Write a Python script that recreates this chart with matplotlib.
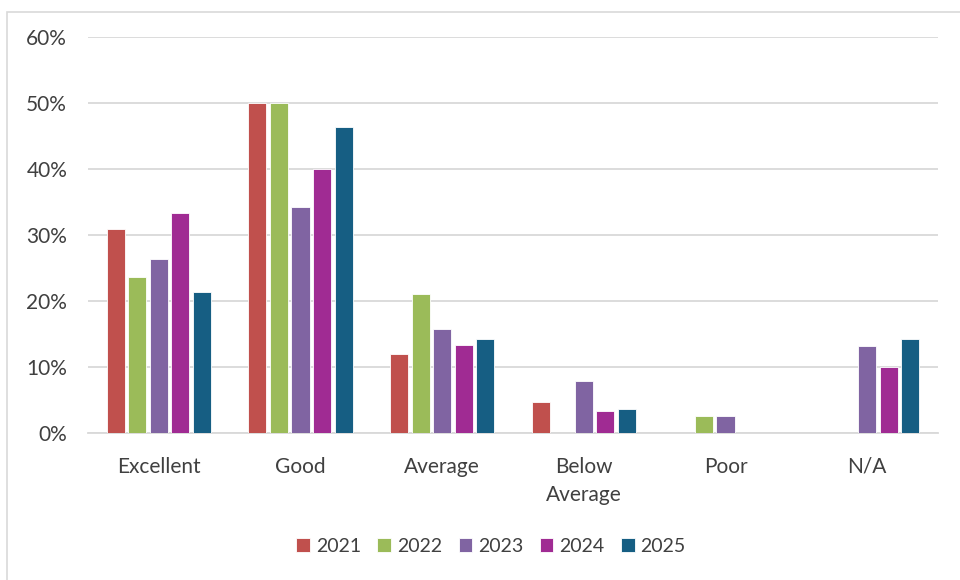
import numpy as np
import matplotlib
matplotlib.use("Agg")
import matplotlib.pyplot as plt
from matplotlib.patches import Rectangle

# Données (en fraction)
categories = ["Excellent", "Good", "Average", "Below\nAverage", "Poor", "N/A"]
annees = ["2021", "2022", "2023", "2024", "2025"]
v2021 = [0.309, 0.500, 0.119, 0.047, 0.0, 0.0]
v2022 = [0.237, 0.500, 0.210, 0.0, 0.026, 0.0]
v2023 = [0.263, 0.342, 0.158, 0.079, 0.026, 0.132]
v2024 = [0.333, 0.400, 0.133, 0.033, 0.0, 0.100]
v2025 = [0.214, 0.464, 0.143, 0.036, 0.0, 0.143]
couleurs = ["#C0504D", "#9BBB59", "#8064A2", "#A02B93", "#165E83"]

series = [v2021, v2022, v2023, v2024, v2025]

plt.rcParams["font.family"] = ["Lato", "DejaVu Sans"]
texte = "#404040"

fig = plt.figure(figsize=(9.6, 5.8), dpi=100)
ax = fig.add_axes([88 / 960, 1 - 433 / 580, 850 / 960, 396 / 580])

x = np.arange(len(categories))
pas = 0.152
for i, (annee, vals) in enumerate(zip(annees, series)):
    decal = (i - 2) * pas
    ax.bar(x + decal, vals, width=0.128, color=couleurs[i], label=annee,
           edgecolor="white", linewidth=0.6, zorder=3)

ax.set_ylim(0, 0.6)
ax.set_xlim(-0.5, len(categories) - 0.5)
ax.set_yticks(np.arange(0, 0.61, 0.1))
ax.set_yticklabels([f"{int(round(t * 100))}%" for t in np.arange(0, 0.61, 0.1)])
ax.set_xticks(x)
ax.set_xticklabels(categories, linespacing=1.55)
ax.tick_params(axis="both", length=0, labelsize=15, colors=texte)
ax.tick_params(axis="x", pad=17)
ax.tick_params(axis="y", pad=15)
ax.grid(axis="y", color="#D9D9D9", linewidth=1.3, zorder=0)
for s in ["top", "right", "left"]:
    ax.spines[s].set_visible(False)
ax.spines["bottom"].set_color("#D9D9D9")
ax.spines["bottom"].set_linewidth(1.3)

leg = fig.legend(loc="center", bbox_to_anchor=(491 / 960, 1 - 546 / 580), ncol=5,
                 frameon=False, fontsize=14, handlelength=0.7, handleheight=0.7,
                 handletextpad=0.3, columnspacing=0.85, labelcolor=texte)

# cadre du graphique
fig.add_artist(Rectangle((7 / 960, -0.05), 1.0, 1 - 12 / 580 + 0.05,
                         transform=fig.transFigure, fill=False,
                         edgecolor="#D9D9D9", linewidth=1.2))

fig.savefig("out.png", dpi=100, facecolor="white")
